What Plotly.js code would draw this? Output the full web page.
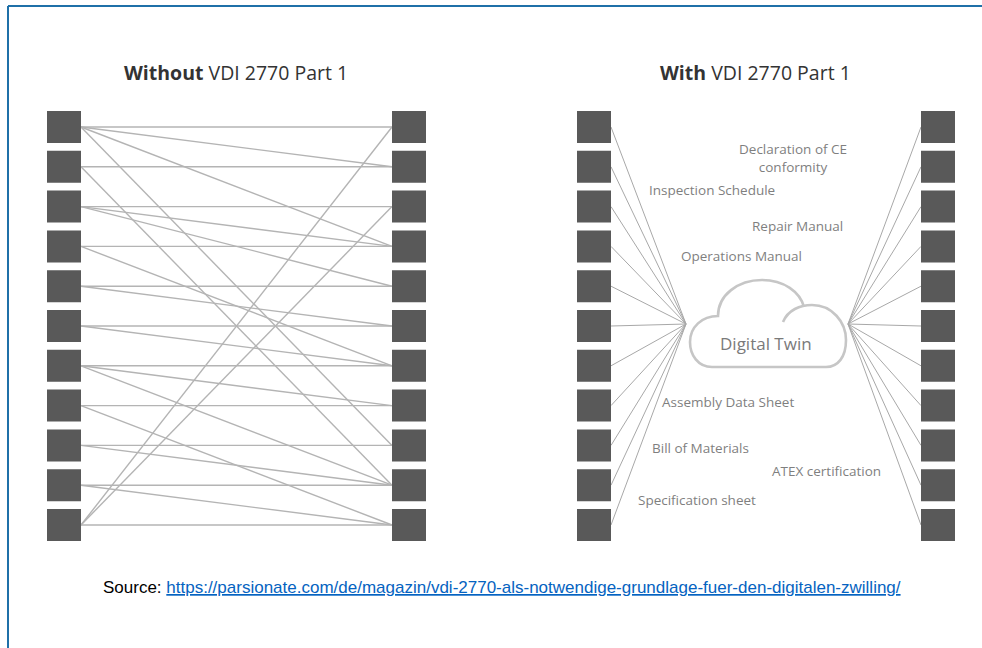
<!DOCTYPE html>
<html>
<head>
<meta charset="utf-8">
<script src="https://cdn.plot.ly/plotly-3.0.1.min.js"></script>
<style>html,body{margin:0;padding:0;background:#fff;}#chart{width:982px;height:648px;}</style>
</head>
<body>
<div id="chart"></div>
<script>
// ---- data ----
const rows = [0, 1, 2, 3, 4, 5, 6, 7, 8, 9, 10];
// Without VDI 2770: point-to-point links (left box index -> right box index)
const linkFrom = [0, 0, 0, 0, 1, 1, 2, 2, 2, 3, 3, 4, 4, 5, 5, 6, 6, 6, 7, 7, 8, 8, 9, 9, 10, 10, 10];
const linkTo   = [0, 1, 3, 8, 1, 9, 2, 3, 4, 3, 6, 4, 5, 5, 6, 6, 7, 9, 7, 10, 8, 9, 9, 10, 10, 0, 2];
const panelTitles = ["<b>Without</b> VDI 2770 Part 1", "<b>With</b> VDI 2770 Part 1"];
const hubLabel = "Digital Twin";
const docLabels = ["Declaration of CE<br>conformity", "Inspection Schedule", "Repair Manual", "Operations Manual",
                   "Assembly Data Sheet", "Bill of Materials", "ATEX certification", "Specification sheet"];
const sourceLabel = "Source: ";
const sourceUrl = "https://parsionate.com/de/magazin/vdi-2770-als-notwendige-grundlage-fuer-den-digitalen-zwilling/";

// ---- layout geometry (pixel-like axis units) ----
const rowTop = 127, rowPitch = 39.8, boxH = 32;
const rowY = i => rowTop + rowPitch * i;
const P1 = {l0: 47, l1: 81, r0: 392, r1: 426};
const P2 = {l0: 577, l1: 611, r0: 921, r1: 955};
const hubL = [686, 324], hubR = [848, 324];
const labelPos = [[793, 158], [712, 190], [797, 226], [741, 256], [728, 402], [700, 448], [826, 471], [697, 500]];

const traces = [];
// left panel links
let x1 = [], y1 = [];
linkFrom.forEach((f, k) => { x1.push(P1.l1, P1.r0, null); y1.push(rowY(f), rowY(linkTo[k]), null); });
traces.push({type: 'scatter', mode: 'lines', x: x1, y: y1, line: {color: '#b4b4b4', width: 1.4}, hoverinfo: 'skip'});
// right panel spokes
let x2 = [], y2 = [];
rows.forEach(i => {
  x2.push(P2.l1, hubL[0], null); y2.push(rowY(i), hubL[1], null);
  x2.push(hubR[0], P2.r0, null); y2.push(hubR[1], rowY(i), null);
});
traces.push({type: 'scatter', mode: 'lines', x: x2, y: y2, line: {color: '#a8a8a8', width: 1}, hoverinfo: 'skip'});

const shapes = [];
[P1, P2].forEach(P => {
  rows.forEach(i => {
    [[P.l0, P.l1], [P.r0, P.r1]].forEach(([a, b]) => {
      shapes.push({type: 'rect', xref: 'x', yref: 'y', x0: a, x1: b, y0: rowY(i) - boxH / 2, y1: rowY(i) + boxH / 2,
                   fillcolor: '#595959', line: {width: 0}, layer: 'above'});
    });
  });
});
// cloud
shapes.push({type: 'path', xref: 'x', yref: 'y', layer: 'above',
  path: 'M 783 322 C 788 310, 800 305, 812 305 C 832 305, 846 322, 846 340 C 846 357, 838 367, 826 367 L 712 367 ' +
        'C 698 367, 690 355, 690 342 C 690 327, 702 316, 718 316 C 718 295, 738 280, 762 280 C 784 280, 800 292, 804 307',
  line: {color: '#c6c6c6', width: 2.6}});
// frame
shapes.push({type: 'line', xref: 'x', yref: 'y', x0: 8, x1: 982, y0: 6, y1: 6, line: {color: '#1f70a8', width: 2}});
shapes.push({type: 'line', xref: 'x', yref: 'y', x0: 8, x1: 8, y0: 6, y1: 648, line: {color: '#1f70a8', width: 2}});

const annotations = [];
annotations.push({x: 236, y: 72, text: panelTitles[0]});
annotations.push({x: 755, y: 72, text: panelTitles[1]});
annotations.forEach(a => Object.assign(a, {xref: 'x', yref: 'y', showarrow: false, xanchor: 'center', yanchor: 'middle',
  font: {family: 'Open Sans', size: 19.5, color: '#333333'}}));
annotations.push({x: 766, y: 343, xref: 'x', yref: 'y', text: hubLabel, showarrow: false, xanchor: 'center', yanchor: 'middle',
  font: {family: 'Open Sans', size: 17, color: '#7a7a7a'}});
docLabels.forEach((t, k) => annotations.push({x: labelPos[k][0], y: labelPos[k][1], xref: 'x', yref: 'y', text: t,
  showarrow: false, xanchor: 'center', yanchor: 'middle', font: {family: 'Open Sans', size: 13.5, color: '#7f7f7f'}}));
annotations.push({x: 101, y: 587, xref: 'x', yref: 'y', xanchor: 'left', yanchor: 'middle', showarrow: false,
  text: sourceLabel + "<span style='color:#0563c1'><u>" + sourceUrl + "</u></span>",
  font: {family: 'Liberation Sans', size: 17, color: '#000000'}});

const layout = {
  width: 982, height: 648, margin: {l: 0, r: 0, t: 0, b: 0},
  paper_bgcolor: '#ffffff', plot_bgcolor: '#ffffff', showlegend: false,
  xaxis: {range: [0, 982], visible: false, fixedrange: true},
  yaxis: {range: [648, 0], visible: false, fixedrange: true},
  shapes: shapes, annotations: annotations
};
Plotly.newPlot('chart', traces, layout, {displayModeBar: false, staticPlot: true});
</script>
</body>
</html>
